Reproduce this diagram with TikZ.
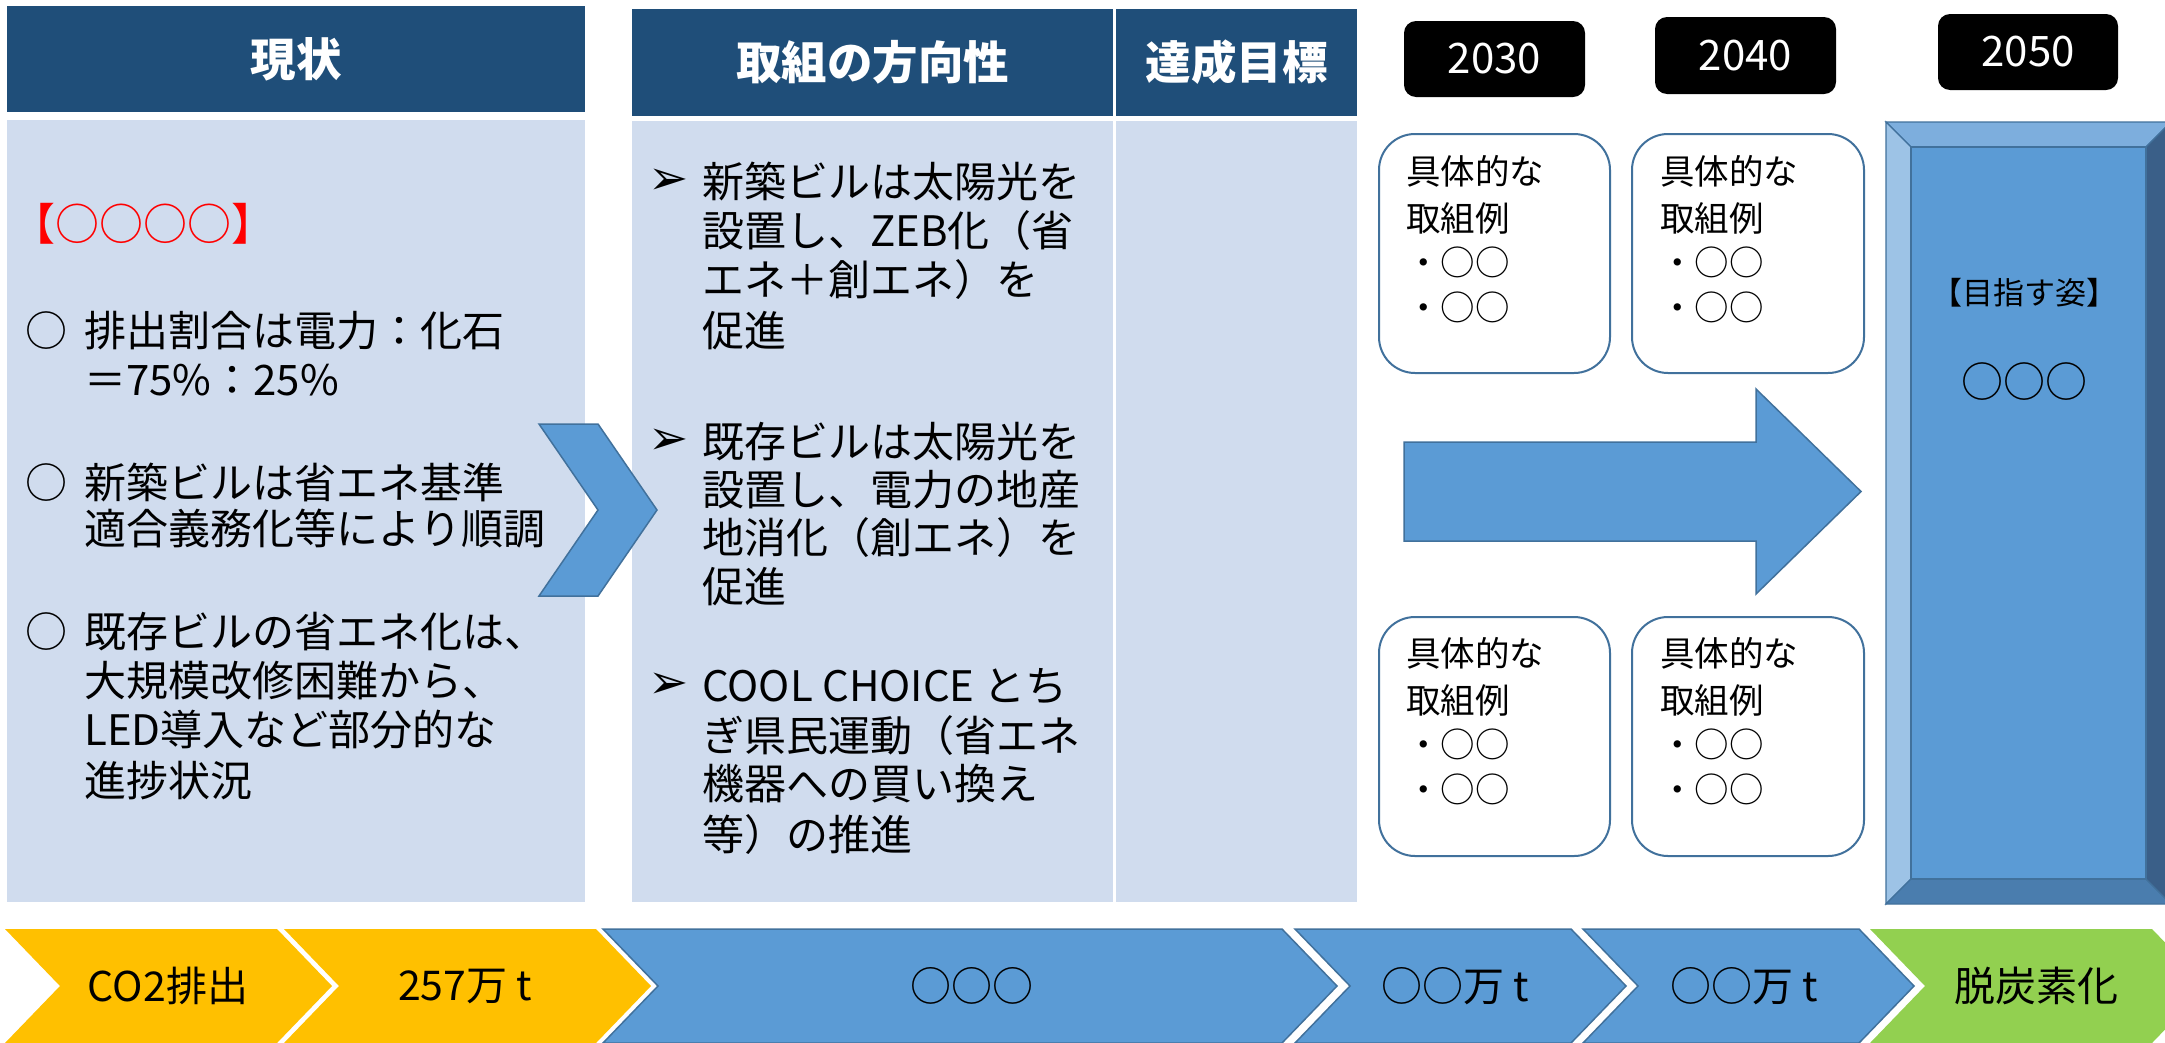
\documentclass[tikz,border=0pt]{standalone}
\usepackage{fontspec}
\newfontfamily\jpf{Noto Sans CJK JP}
\newfontfamily\symf{DejaVu Sans}
\definecolor{hdrblue}{HTML}{1F4E79}
\definecolor{bodyblue}{HTML}{D0DCEE}
\definecolor{midblue}{HTML}{5B9BD5}
\definecolor{edgeblue}{HTML}{41719C}
\definecolor{gold}{HTML}{FFC000}
\definecolor{lgreen}{HTML}{92D050}
\definecolor{bvtop}{HTML}{7DAEDD}
\definecolor{bvleft}{HTML}{9DC3E6}
\definecolor{bvbottom}{HTML}{4A7DAE}
\definecolor{bvright}{HTML}{3A5F88}
\tikzset{
  hdr/.style={fill=hdrblue, text=white, inner sep=0pt, font=\jpf\bfseries\fontsize{45.5}{50}\selectfont},
  panel/.style={fill=bodyblue, inner sep=0pt},
  bigtxt/.style={anchor=west, inner sep=0pt, font=\jpf\fontsize{42}{50}\selectfont},
  bulletmark/.style={inner sep=0pt, font=\jpf\fontsize{42}{50}\selectfont},
  arrowmark/.style={inner sep=0pt, font=\symf\fontsize{48}{50}\selectfont},
  smalltxt/.style={anchor=west, inner sep=0pt, font=\jpf\fontsize{34.5}{40}\selectfont},
  yearbox/.style={fill=black, rounded corners=12pt, text=white, inner sep=0pt, font=\jpf\fontsize{42}{44}\selectfont},
  exbox/.style={draw=edgeblue, line width=2pt, fill=white, rounded corners=36pt, inner sep=0pt},
  bluefill/.style={fill=midblue, draw=edgeblue, line width=1.5pt},
  bandtxt/.style={inner sep=0pt, font=\jpf\fontsize{41}{44}\selectfont},
}
\begin{document}
\begin{tikzpicture}[x=1pt,y=-1pt]
\useasboundingbox (0,0) rectangle (2165,1042);
\fill[white] (0,0) rectangle (2165,1042);

% headers
\node[hdr, minimum width=578pt, minimum height=106pt] (h1) at (296,59) {現状};
\node[hdr, minimum width=481pt, minimum height=107pt] (h2) at (872.5,62.5) {取組の方向性};
\node[hdr, minimum width=241pt, minimum height=107pt] (h3) at (1236.5,62.5) {達成目標};

% panels
\node[panel, minimum width=578pt, minimum height=782pt] (p1) at (296,511) {};
\node[panel, minimum width=481pt, minimum height=781pt] (p2) at (872.5,511.5) {};
\node[panel, minimum width=241pt, minimum height=781pt] (p3) at (1236.5,511.5) {};

% left column text
\node[inner sep=0pt, font=\jpf\fontsize{44}{50}\selectfont, text=red] (red) at (143,224) {【○○○○】};
\node[bulletmark] (b1) at (46,331) {○};
\node[bigtxt] (t1a) at (84,331) {排出割合は電力：化石};
\node[bigtxt] (t1b) at (84,380) {＝75\%：25\%};
\node[bulletmark] (b2) at (46,483) {○};
\node[bigtxt] (t2a) at (84,483) {新築ビルは省エネ基準};
\node[bigtxt] (t2b) at (84,529) {適合義務化等により順調};
\node[bulletmark] (b3) at (46,632) {○};
\node[bigtxt] (t3a) at (84,632) {既存ビルの省エネ化は、};
\node[bigtxt] (t3b) at (84,681) {大規模改修困難から、};
\node[bigtxt] (t3c) at (84,730) {LED導入など部分的な};
\node[bigtxt] (t3d) at (84,781) {進捗状況};

% chevron between columns
\path[bluefill] (539,424) -- (598,424) -- (657,510) -- (598,596) -- (539,596) -- (598,510) -- cycle;

% middle column text
\node[arrowmark] (m1) at (668.5,182) {➢};
\node[bigtxt] (s1a) at (702,182) {新築ビルは太陽光を};
\node[bigtxt] (s1b) at (702,231) {設置し、ZEB化（省};
\node[bigtxt] (s1c) at (702,280) {エネ＋創エネ）を};
\node[bigtxt] (s1d) at (702,331) {促進};
\node[arrowmark] (m2) at (668.5,442) {➢};
\node[bigtxt] (s2a) at (702,442) {既存ビルは太陽光を};
\node[bigtxt] (s2b) at (702,490) {設置し、電力の地産};
\node[bigtxt] (s2c) at (702,538) {地消化（創エネ）を};
\node[bigtxt] (s2d) at (702,587) {促進};
\node[arrowmark] (m3) at (668.5,686) {➢};
\node[bigtxt] (s3a) at (702,686) {COOL CHOICE とち};
\node[bigtxt] (s3b) at (702,736) {ぎ県民運動（省エネ};
\node[bigtxt] (s3c) at (702,784) {機器への買い換え};
\node[bigtxt] (s3d) at (702,835) {等）の推進};

% year boxes
\node[yearbox, minimum width=181pt, minimum height=76pt] (y30) at (1494.5,59) {2030};
\node[yearbox, minimum width=181pt, minimum height=77pt] (y40) at (1745.5,55.5) {2040};
\node[yearbox, minimum width=180pt, minimum height=76pt] (y50) at (2028,52) {2050};

% big arrow
\path[bluefill] (1404,442) -- (1756,442) -- (1756,389) -- (1861,491.5) -- (1756,594) -- (1756,541) -- (1404,541) -- cycle;

% example boxes
\node[exbox, minimum width=231pt, minimum height=239pt] (ea) at (1494.5,253.5) {};
\node[exbox, minimum width=232pt, minimum height=239pt] (eb) at (1748,253.5) {};
\node[exbox, minimum width=231pt, minimum height=239pt] (ec) at (1494.5,736.5) {};
\node[exbox, minimum width=232pt, minimum height=239pt] (ed) at (1748,736.5) {};
\foreach \bx/\by/\nm in {1406/0/a, 1660/0/b, 1406/482/c, 1660/482/d}{
  \node[smalltxt] (\nm1) at (\bx,171+\by) {具体的な};
  \node[smalltxt] (\nm2) at (\bx,218+\by) {取組例};
  \node[smalltxt] (\nm3) at (\bx,262+\by) {・○○};
  \node[smalltxt] (\nm4) at (\bx,307+\by) {・○○};
}

% bevel box
\path[fill=bvtop, draw=edgeblue, line width=1.2pt] (1886,122) -- (2171,122) -- (2146,147) -- (1911,147) -- cycle;
\path[fill=bvleft, draw=edgeblue, line width=1.2pt] (1886,122) -- (1911,147) -- (1911,879) -- (1886,904) -- cycle;
\path[fill=bvbottom, draw=edgeblue, line width=1.2pt] (1886,904) -- (1911,879) -- (2146,879) -- (2171,904) -- cycle;
\path[fill=bvright, draw=edgeblue, line width=1.2pt] (2171,122) -- (2146,147) -- (2146,879) -- (2171,904) -- cycle;
\node[fill=midblue, draw=edgeblue, line width=1.2pt, minimum width=235pt, minimum height=732pt, inner sep=0pt] (goal) at (2028.5,513) {};
\node[inner sep=0pt, font=\jpf\fontsize{31}{34}\selectfont] (goalt) at (2024,293) {【目指す姿】};
\node[inner sep=0pt, font=\jpf\fontsize{42}{46}\selectfont] (goalc) at (2024,382) {○○○};

% bottom band
\path[fill=gold] (5,929) -- (277,929) -- (332,986) -- (277,1043) -- (5,1043) -- (60,986) -- cycle;
\node[bandtxt] (c1) at (168,986) {CO2排出};
\path[fill=gold] (284,929) -- (596,929) -- (651,986) -- (596,1043) -- (284,1043) -- (339,986) -- cycle;
\node[bandtxt] (c2) at (465,986) {257万 t};
\path[bluefill] (603,929) -- (1282,929) -- (1337,986) -- (1282,1043) -- (603,1043) -- (658,986) -- cycle;
\node[bandtxt] (c3) at (972,986) {○○○};
\path[bluefill] (1295,929) -- (1571,929) -- (1626,986) -- (1571,1043) -- (1295,1043) -- (1350,986) -- cycle;
\node[bandtxt] (c4) at (1455,986) {○○万 t};
\path[bluefill] (1583,929) -- (1859,929) -- (1914,986) -- (1859,1043) -- (1583,1043) -- (1638,986) -- cycle;
\node[bandtxt] (c5) at (1744,986) {○○万 t};
\path[fill=lgreen] (1870,929) -- (2152,929) -- (2207,986) -- (2152,1043) -- (1870,1043) -- (1925,986) -- cycle;
\node[bandtxt] (c6) at (2036,986) {脱炭素化};
\end{tikzpicture}
\end{document}
